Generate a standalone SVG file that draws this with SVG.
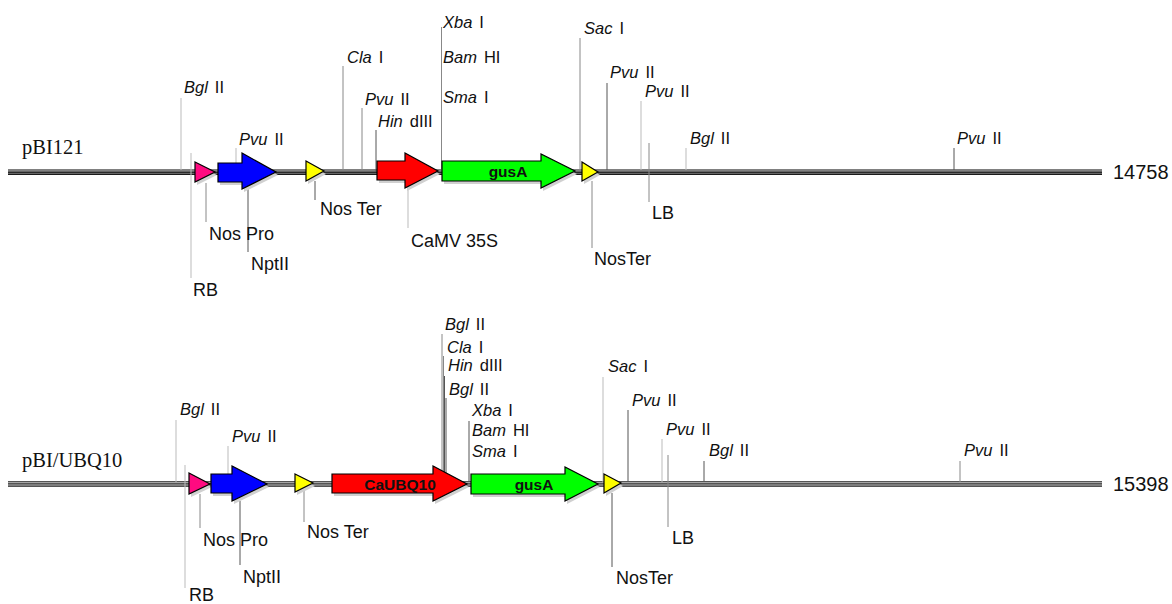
<svg xmlns="http://www.w3.org/2000/svg" width="1172" height="604" viewBox="0 0 1172 604">
<style>
text{font-family:"Liberation Sans",Arial,sans-serif;fill:#111}
.re{font-size:16.5px}
.re .it{font-style:italic}
.lb{font-size:18px}
.nm{font-family:"Liberation Serif","Times New Roman",serif;font-size:20.5px}
.len{font-size:20px}
.gn{font-size:15.5px;font-weight:bold;text-anchor:middle}
.ft{stroke:#000;stroke-width:1.2;stroke-linejoin:miter}
.sh{fill:#d0d0d0;stroke:none}
.l1{stroke:#bbb;stroke-width:1}
.l2{stroke:#888;stroke-width:1}
.l3{stroke:#555;stroke-width:1}
</style>

<g id="backbones">
  <g id="bb-top">
    <rect x="8" y="169" width="1094" height="6" fill="#666"/>
    <line x1="8" y1="170" x2="1102" y2="170" stroke="#9a9a9a" stroke-width="1"/>
    <line x1="8" y1="172.5" x2="1102" y2="172.5" stroke="#2a2a2a" stroke-width="1.2"/>
    <line x1="8" y1="174.5" x2="1102" y2="174.5" stroke="#1a1a1a" stroke-width="1"/>
  </g>
  <g id="bb-bottom">
    <rect x="8" y="481" width="1094" height="6" fill="#555"/>
    <line x1="8" y1="482.5" x2="1102" y2="482.5" stroke="#bbb" stroke-width="0.8"/>
    <line x1="8" y1="485" x2="1102" y2="485" stroke="#bbb" stroke-width="0.8"/>
  </g>
</g>

<g id="connectors">
  <!-- top -->
  <line class="l1" x1="181" y1="98" x2="181" y2="170"/>
  <line class="l1" x1="191" y1="153" x2="191" y2="278"/>
  <line class="l2" x1="206" y1="183" x2="206" y2="222"/>
  <line class="l1" x1="236" y1="148" x2="236" y2="165"/>
  <line class="l3" x1="248" y1="189" x2="248" y2="252"/>
  <line class="l3" x1="315" y1="181" x2="315" y2="200"/>
  <line class="l2" x1="343" y1="66" x2="343" y2="170"/>
  <line class="l2" x1="362" y1="108" x2="362" y2="170"/>
  <line class="l3" x1="376" y1="130" x2="376" y2="172"/>
  <line class="l1" x1="408" y1="188" x2="408" y2="228"/>
  <line class="l2" x1="441.5" y1="27" x2="441.5" y2="170"/>
  <line class="l2" x1="580" y1="38" x2="580" y2="170"/>
  <line class="l2" x1="592" y1="181" x2="592" y2="248"/>
  <line class="l3" x1="607" y1="83" x2="607" y2="170"/>
  <line class="l1" x1="641" y1="101" x2="641" y2="170"/>
  <line class="l2" x1="649" y1="143" x2="649" y2="202"/>
  <line class="l1" x1="686" y1="148" x2="686" y2="170"/>
  <line class="l3" x1="954" y1="148" x2="954" y2="170"/>
  <!-- bottom -->
  <line class="l1" x1="176" y1="420" x2="176" y2="482"/>
  <line class="l1" x1="228" y1="446" x2="228" y2="474"/>
  <line class="l1" x1="185" y1="465" x2="185" y2="588"/>
  <line class="l2" x1="200" y1="494" x2="200" y2="528"/>
  <line class="l3" x1="240" y1="501" x2="240" y2="565"/>
  <line class="l2" x1="304" y1="491" x2="304" y2="522"/>
  <line class="l2" x1="442" y1="334" x2="442" y2="478"/>
  <line class="l2" x1="443.5" y1="356" x2="443.5" y2="478"/>
  <line class="l3" x1="444.5" y1="376" x2="444.5" y2="478"/>
  <line class="l3" x1="446" y1="398" x2="446" y2="478"/>
  <line class="l3" x1="469" y1="421" x2="469" y2="482"/>
  <line class="l1" x1="603" y1="377" x2="603" y2="482"/>
  <line class="l3" x1="612" y1="493" x2="612" y2="567"/>
  <line class="l3" x1="628" y1="410" x2="628" y2="482"/>
  <line class="l1" x1="662" y1="439" x2="662" y2="482"/>
  <line class="l2" x1="668" y1="455" x2="668" y2="527"/>
  <line class="l3" x1="704" y1="461" x2="704" y2="482"/>
  <line class="l2" x1="960" y1="461" x2="960" y2="482"/>
</g>

<g id="pBI121">
  <text class="nm" x="22" y="154">pBI121</text>
  <text class="len" x="1113" y="179">14758</text>
  <g id="t-RB">
    <polygon class="sh" points="197,165 217,175 197,185"/>
    <polygon class="ft" fill="#ff0a80" points="195,162 215,172 195,182"/>
    <text class="lb" x="193" y="296">RB</text>
  </g>
  <g id="t-NptII">
    <polygon class="sh" points="220,166 244,166 244,156 278,175 244,192 244,185 220,185"/>
    <polygon class="ft" fill="#0000ff" points="218,163 242,163 242,153 276,172 242,189 242,182 218,182"/>
    <text class="lb" x="251" y="270">NptII</text>
  </g>
  <text class="lb" x="209" y="240">Nos Pro</text>
  <g id="t-NosTer1">
    <polygon class="sh" points="308,164 326,174 308,184"/>
    <polygon class="ft" fill="#ffff00" points="306,161 324,171 306,181"/>
    <text class="lb" x="320" y="215">Nos Ter</text>
  </g>
  <g id="t-CaMV">
    <polygon class="sh" points="379,164 407,164 407,156 440,174 407,191 407,183 379,183"/>
    <polygon class="ft" fill="#ff0000" points="377,161 405,161 405,153 438,171 405,188 405,180 377,180"/>
    <text class="lb" x="411" y="247">CaMV 35S</text>
  </g>
  <g id="t-gusA">
    <polygon class="sh" points="444,164 543,164 543,157 577,174 543,191 543,184 444,184"/>
    <polygon class="ft" fill="#00ff00" points="442,161 541,161 541,154 575,171 541,188 541,181 442,181"/>
    <text class="gn" x="508" y="177">gusA</text>
  </g>
  <g id="t-NosTer2">
    <polygon class="sh" points="584,165 600,175 584,184"/>
    <polygon class="ft" fill="#ffff00" points="582,162 598,172 582,181"/>
    <text class="lb" x="594" y="265">NosTer</text>
  </g>
  <text class="lb" x="652" y="219">LB</text>
  <g id="t-sites">
    <text class="re" x="184" y="93"><tspan class="it">Bgl</tspan><tspan dx="7">II</tspan></text>
    <text class="re" x="239" y="145"><tspan class="it">Pvu</tspan><tspan dx="7">II</tspan></text>
    <text class="re" x="347" y="63"><tspan class="it">Cla</tspan><tspan dx="7">I</tspan></text>
    <text class="re" x="365" y="105"><tspan class="it">Pvu</tspan><tspan dx="7">II</tspan></text>
    <text class="re" x="378" y="127"><tspan class="it">Hin</tspan><tspan dx="7">dIII</tspan></text>
    <text class="re" x="443" y="28"><tspan class="it">Xba</tspan><tspan dx="7">I</tspan></text>
    <text class="re" x="443" y="63"><tspan class="it">Bam</tspan><tspan dx="7">HI</tspan></text>
    <text class="re" x="443" y="103"><tspan class="it">Sma</tspan><tspan dx="7">I</tspan></text>
    <text class="re" x="584" y="34"><tspan class="it">Sac</tspan><tspan dx="7">I</tspan></text>
    <text class="re" x="610" y="78"><tspan class="it">Pvu</tspan><tspan dx="7">II</tspan></text>
    <text class="re" x="645" y="97"><tspan class="it">Pvu</tspan><tspan dx="7">II</tspan></text>
    <text class="re" x="690" y="144"><tspan class="it">Bgl</tspan><tspan dx="7">II</tspan></text>
    <text class="re" x="957" y="144"><tspan class="it">Pvu</tspan><tspan dx="7">II</tspan></text>
  </g>
</g>

<g id="pBI-UBQ10">
  <text class="nm" x="22" y="467">pBI/UBQ10</text>
  <text class="len" x="1113" y="491">15398</text>
  <g id="b-RB">
    <polygon class="sh" points="191,476 212,487 191,497"/>
    <polygon class="ft" fill="#ff0a80" points="189,473 210,484 189,494"/>
    <text class="lb" x="189" y="601">RB</text>
  </g>
  <text class="lb" x="203" y="546">Nos Pro</text>
  <g id="b-NptII">
    <polygon class="sh" points="213,477 234,477 234,469 269,487 234,504 234,496 213,496"/>
    <polygon class="ft" fill="#0000ff" points="211,474 232,474 232,466 267,484 232,501 232,493 211,493"/>
    <text class="lb" x="243" y="583">NptII</text>
  </g>
  <g id="b-NosTer1">
    <polygon class="sh" points="297,477 315,486 297,495"/>
    <polygon class="ft" fill="#ffff00" points="295,474 313,483 295,492"/>
    <text class="lb" x="307" y="538">Nos Ter</text>
  </g>
  <g id="b-CaUBQ10">
    <polygon class="sh" points="334,477 435,477 435,469 469,487 435,504 435,496 334,496"/>
    <polygon class="ft" fill="#ff0000" points="332,474 433,474 433,466 467,484 433,501 433,493 332,493"/>
    <text class="gn" x="400" y="490">CaUBQ10</text>
  </g>
  <g id="b-gusA">
    <polygon class="sh" points="473,477 567,477 567,470 600,487 567,504 567,497 473,497"/>
    <polygon class="ft" fill="#00ff00" points="471,474 565,474 565,467 598,484 565,501 565,494 471,494"/>
    <text class="gn" x="534" y="490">gusA</text>
  </g>
  <g id="b-NosTer2">
    <polygon class="sh" points="606,477 623,486 606,496"/>
    <polygon class="ft" fill="#ffff00" points="604,474 621,483 604,493"/>
    <text class="lb" x="616" y="584">NosTer</text>
  </g>
  <text class="lb" x="672" y="544">LB</text>
  <g id="b-sites">
    <text class="re" x="180" y="415"><tspan class="it">Bgl</tspan><tspan dx="7">II</tspan></text>
    <text class="re" x="232" y="442"><tspan class="it">Pvu</tspan><tspan dx="7">II</tspan></text>
    <text class="re" x="445" y="330"><tspan class="it">Bgl</tspan><tspan dx="7">II</tspan></text>
    <text class="re" x="447" y="353"><tspan class="it">Cla</tspan><tspan dx="7">I</tspan></text>
    <text class="re" x="448" y="371"><tspan class="it">Hin</tspan><tspan dx="7">dIII</tspan></text>
    <text class="re" x="449" y="395"><tspan class="it">Bgl</tspan><tspan dx="7">II</tspan></text>
    <text class="re" x="472" y="416"><tspan class="it">Xba</tspan><tspan dx="7">I</tspan></text>
    <text class="re" x="472" y="436"><tspan class="it">Bam</tspan><tspan dx="7">HI</tspan></text>
    <text class="re" x="472" y="457"><tspan class="it">Sma</tspan><tspan dx="7">I</tspan></text>
    <text class="re" x="608" y="372"><tspan class="it">Sac</tspan><tspan dx="7">I</tspan></text>
    <text class="re" x="632" y="406"><tspan class="it">Pvu</tspan><tspan dx="7">II</tspan></text>
    <text class="re" x="666" y="435"><tspan class="it">Pvu</tspan><tspan dx="7">II</tspan></text>
    <text class="re" x="709" y="456"><tspan class="it">Bgl</tspan><tspan dx="7">II</tspan></text>
    <text class="re" x="964" y="456"><tspan class="it">Pvu</tspan><tspan dx="7">II</tspan></text>
  </g>
</g>
</svg>
